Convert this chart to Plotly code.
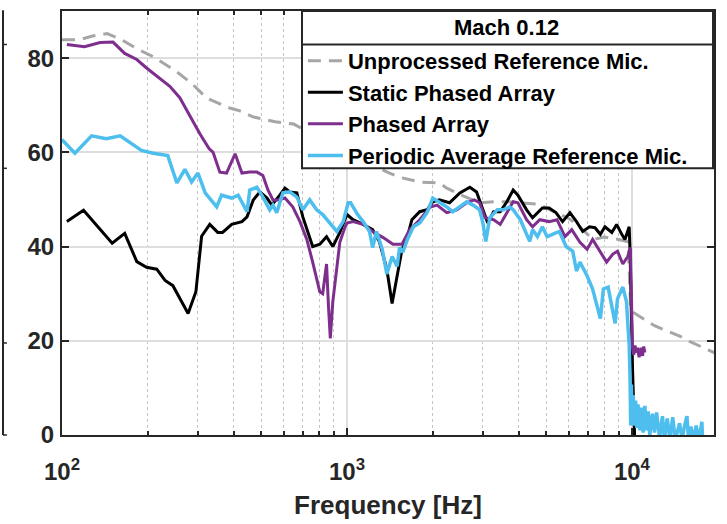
import plotly.graph_objects as go

# ---------------- data ----------------
gray_f = [100, 115, 128, 144, 162, 183, 209, 253, 288, 322, 388, 421, 470, 560, 650, 800,
          1000, 1200, 1410, 1530, 1800, 2110, 2240, 2500, 2920, 3300, 3650, 4700, 5500, 6000,
          6600, 7300, 8000, 9000, 9700, 9900, 10000, 11000, 12000, 14700, 16000, 19600]
gray_v = [83.9, 83.9, 84.7, 85.2, 83.9, 82.0, 80.3, 77.1, 74.4, 71.5, 69.4, 68.8, 67.5, 66.5, 66.0, 63.0,
          60.5, 57.5, 55.6, 54.7, 53.7, 53.5, 52.4, 51.0, 49.3, 49.5, 49.5, 49.0, 47.0, 46.0,
          44.0, 41.5, 42.0, 41.5, 41.0, 26.5, 26.2, 24.7, 23.2, 21.0, 19.8, 17.4]

black_f = [104, 119, 150, 166, 183, 198, 215, 230, 245, 277, 295, 309, 330, 352, 366, 394, 428, 446,
           469, 495, 524, 545, 581, 606, 630, 667, 700, 758, 803, 848, 892, 944, 1000, 1050, 1140,
           1230, 1300, 1380, 1440, 1500, 1560, 1620, 1690, 1800, 1910, 2000, 2110, 2290, 2490, 2700,
           2850, 3000, 3120, 3270, 3450, 3640, 3830, 3980, 4270, 4480, 4660, 4850, 5120, 5410, 5710,
           6060, 6390, 6720, 7100, 7420, 7750, 8040, 8500, 8840, 9210, 9450, 9780, 9850, 10050,
           10100, 10150, 10250]
black_v = [45.3, 47.7, 40.7, 42.8, 36.8, 35.6, 35.2, 32.8, 31.7, 25.8, 30.4, 42.2, 44.7, 43.0, 43.0,
           44.7, 45.3, 46.3, 49.9, 51.6, 50.3, 48.8, 50.9, 52.4, 51.6, 51.4, 46.3, 40.0, 40.5, 42.1,
           40.0, 43.0, 46.8, 45.7, 44.7, 43.6, 41.0, 35.2, 27.9, 33.8, 39.4, 41.5, 45.7, 47.4, 47.8,
           49.5, 49.9, 49.3, 51.4, 52.6, 51.6, 47.8, 45.0, 47.4, 47.4, 49.5, 52.0, 50.9, 47.8, 46.1,
           47.2, 48.2, 48.2, 47.2, 45.3, 47.2, 45.3, 43.2, 44.2, 44.0, 42.6, 44.2, 43.0, 44.7, 42.6,
           41.5, 44.2, 39.0, 14.0, 8.6, 2.0, -3.0]

purple_f = [104, 120, 136, 151, 166, 183, 198, 221, 239, 259, 281, 305, 328, 339, 358, 378, 405, 428,
            456, 483, 507, 528, 550, 573, 606, 646, 684, 723, 758, 803, 822, 848, 861, 874, 892, 922,
            944, 985, 1000, 1050, 1140, 1230, 1340, 1450, 1560, 1660, 1800, 1960, 2070, 2240, 2430,
            2630, 2800, 2920, 3050, 3270, 3450, 3640, 3830, 3980, 4270, 4480, 4750, 5120, 5460, 5820,
            6150, 6570, 6960, 7280, 7750, 8150, 8570, 8900, 9290, 9670, 9870, 9950, 10050, 10150,
            10250, 10350, 10450, 10600, 10750, 10900, 11000, 11100]
purple_v = [82.9, 82.4, 83.3, 83.4, 81.0, 79.7, 77.9, 75.7, 74.0, 71.6, 67.7, 63.9, 60.8, 60.0, 55.8,
            55.6, 59.7, 55.6, 55.8, 55.8, 55.1, 52.0, 49.9, 49.9, 50.3, 48.4, 45.3, 41.5, 36.7, 30.4,
            30.0, 36.3, 27.5, 20.5, 28.3, 35.2, 40.9, 44.2, 45.0, 45.3, 44.7, 43.2, 41.9, 40.5, 40.5,
            43.6, 45.7, 48.4, 48.8, 47.2, 47.8, 49.3, 49.9, 49.3, 46.1, 45.7, 44.7, 47.2, 49.5, 49.3,
            45.7, 44.2, 45.7, 45.3, 45.7, 42.1, 43.6, 40.9, 39.4, 41.5, 38.8, 36.7, 38.4, 39.0, 36.3,
            37.9, 39.8, 27.5, 18.4, 17.0, 19.0, 17.5, 18.5, 16.5, 18.5, 16.8, 18.8, 17.5]

blue_f = [100, 111, 127, 143, 160, 173, 190, 209, 235, 253, 270, 285, 300, 318, 330, 349, 363, 394,
          415, 446, 456, 483, 507, 536, 550, 567, 596, 630, 667, 700, 740, 783, 822, 870, 922, 970,
          1010, 1030, 1090, 1140, 1200, 1230, 1270, 1330, 1380, 1440, 1500, 1530, 1570, 1630, 1710,
          1800, 1910, 2000, 2110, 2240, 2350, 2490, 2630, 2770, 2920, 3000, 3070, 3170, 3370, 3530,
          3720, 3830, 4060, 4270, 4380, 4480, 4660, 4850, 5040, 5260, 5560, 5880, 6200, 6390, 6570,
          6960, 7280, 7750, 7940, 8250, 8730, 8900, 9290, 9570, 9780, 9850, 9900, 9960, 10000, 10100,
          10200, 10300, 10400, 10500, 10670, 10800, 10950, 11100, 11260, 11400, 11550, 11800, 12000,
          12200, 12500, 12800, 13000, 13300, 13600, 13900, 14200, 14700, 15000, 15300, 15600, 15800,
          16100, 16500, 16800, 17200, 17600, 17700]
blue_v = [62.7, 59.8, 63.5, 62.9, 63.5, 62.1, 60.4, 59.8, 59.3, 53.5, 56.4, 53.7, 55.6, 51.4, 50.3,
          48.4, 50.9, 50.3, 50.9, 47.4, 52.0, 52.6, 50.5, 47.8, 48.8, 47.2, 51.4, 51.6, 50.5, 47.8,
          49.9, 47.8, 46.8, 45.0, 43.2, 45.3, 49.3, 49.3, 46.8, 45.3, 43.2, 39.8, 43.2, 39.4, 34.2,
          37.9, 35.8, 39.8, 38.8, 41.5, 44.2, 45.0, 47.2, 50.3, 49.5, 48.4, 47.4, 48.4, 49.5, 48.8,
          47.8, 45.0, 41.1, 46.1, 47.8, 47.8, 48.4, 47.8, 45.7, 42.6, 41.1, 43.6, 42.1, 44.2, 42.1,
          42.6, 43.2, 40.0, 39.0, 34.8, 36.7, 33.8, 31.0, 24.7, 31.0, 31.4, 23.7, 28.9, 31.4, 28.3,
          19.1, 12.0, 2.0, 10.7, 3.0, 8.5, 2.0, 7.3, 1.5, 6.5, 1.0, 5.8, 0.5, 6.2, 1.0, 5.0, 0.0,
          4.5, 0.5, 4.8, -0.5, 4.0, -1.0, 3.5, -1.0, 3.8, -1.0, 2.5, -1.0, 2.0, 4.0, -1.0, 1.8,
          -1.0, 2.0, -1.0, 2.8, -1.0]

x_tickvals = [100, 1000, 10000]
x_ticktext = ["10<sup>2</sup>", "10<sup>3</sup>", "10<sup>4</sup>"]
x_minorvals = [200, 300, 400, 500, 600, 700, 800, 900,
               2000, 3000, 4000, 5000, 6000, 7000, 8000, 9000]
y_tickvals = [0, 20, 40, 60, 80]
legend_title = "Mach 0.12"

# ---------------- style ----------------
FONT = "Liberation Sans"
INK = "#262626"
GRID = "#dedede"

fig = go.Figure()
fig.add_trace(go.Scatter(x=gray_f, y=gray_v, mode="lines", name="Unprocessed Reference Mic.",
                         line=dict(color="#a6a6a6", width=3, dash="13px,8px")))
fig.add_trace(go.Scatter(x=black_f, y=black_v, mode="lines", name="Static Phased Array",
                         line=dict(color="#000000", width=3)))
fig.add_trace(go.Scatter(x=purple_f, y=purple_v, mode="lines", name="Phased Array",
                         line=dict(color="#7e2f8e", width=3)))
fig.add_trace(go.Scatter(x=blue_f, y=blue_v, mode="lines", name="Periodic Average Reference Mic.",
                         line=dict(color="#4dbeee", width=3.5)))

fig.update_xaxes(type="log", range=[2, 4.288],
                 tickvals=x_tickvals, ticktext=x_ticktext,
                 ticks="inside", ticklen=7, tickwidth=1.5, tickcolor=INK,
                 tickfont=dict(family=FONT, size=24, color=INK, weight="bold"),
                 ticklabelstandoff=14,
                 showline=True, linecolor=INK, linewidth=2, mirror="ticks",
                 showgrid=True, gridcolor=GRID, gridwidth=2, zeroline=False,
                 minor=dict(tickvals=x_minorvals, ticks="inside", ticklen=4, tickwidth=1.5,
                            tickcolor=INK, showgrid=True, gridcolor="#c4c4c4",
                            griddash="dot", gridwidth=1.2),
                 title=dict(text="Frequency [Hz]", standoff=12,
                            font=dict(family=FONT, size=26, color=INK, weight="bold")))
fig.update_yaxes(range=[0, 90], tickvals=y_tickvals,
                 ticks="inside", ticklen=7, tickwidth=1.5, tickcolor=INK,
                 tickfont=dict(family=FONT, size=24, color=INK, weight="bold"),
                 ticklabelstandoff=1,
                 showline=True, linecolor=INK, linewidth=2, mirror="ticks",
                 showgrid=True, gridcolor=GRID, gridwidth=2, zeroline=False)

fig.update_layout(
    width=727, height=524,
    margin=dict(l=62, r=13, t=9, b=86),
    plot_bgcolor="white", paper_bgcolor="white",
    showlegend=True,
    legend=dict(x=0.3695, y=0.932, xanchor="left", yanchor="top",
                bgcolor="rgba(0,0,0,0)", borderwidth=0,
                font=dict(family=FONT, size=22, color="#000000", weight="bold"),
                itemwidth=35),
)

# legend frame (white box, border, separator under the title)
fig.add_shape(type="rect", xref="paper", yref="paper", x0=0.3681, x1=0.9985, y0=0.6294, y1=1.0,
              fillcolor="white", line=dict(color=INK, width=2), layer="above")
fig.add_shape(type="line", xref="paper", yref="paper", x0=0.3681, x1=0.9985, y0=0.9207, y1=0.9207,
              line=dict(color=INK, width=2), layer="above")
fig.add_annotation(text=legend_title, xref="paper", yref="paper", x=0.6825, y=0.961,
                   xanchor="center", yanchor="middle", showarrow=False,
                   font=dict(family=FONT, size=22, color="#000000", weight="bold"))

# clipped axis of the neighbouring panel on the far left
fig.add_shape(type="line", xref="paper", yref="paper", x0=-0.0905, x1=-0.0905, y0=0, y1=1.002,
              line=dict(color=INK, width=2))
for yy in [0.921, 0.629, 0.217, 0.0]:
    fig.add_shape(type="line", xref="paper", yref="paper", x0=-0.0905, x1=-0.0845, y0=yy, y1=yy,
                  line=dict(color=INK, width=1.5))

fig.write_html("out.html")
